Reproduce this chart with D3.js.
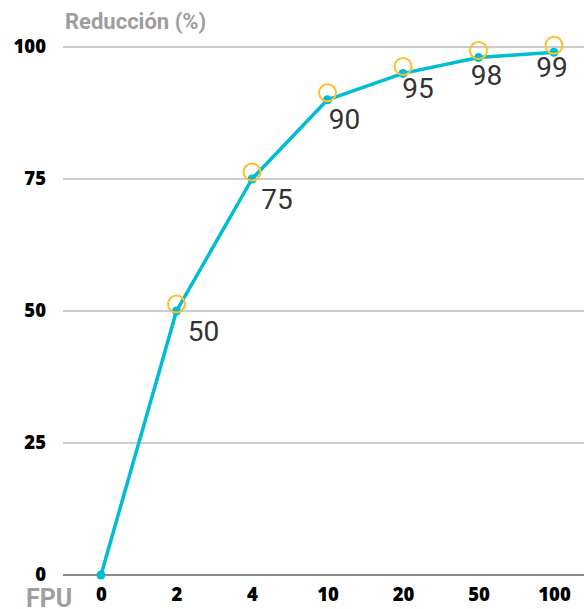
<!DOCTYPE html>
<html><head><meta charset="utf-8">
<script src="https://cdn.jsdelivr.net/npm/d3@7"></script>
<style>html,body{margin:0;padding:0;background:#fff;}svg{display:block;}</style>
</head><body>
<svg id="c" width="584" height="609"></svg>
<script>
const categories = ["0", "2", "4", "10", "20", "50", "100"];
const reduction = [0, 50, 75, 90, 95, 98, 99];
const yTicks = [0, 25, 50, 75, 100];
const yTitle = "Reducción (%)";
const xTitle = "FPU";

(function () {
const svg = d3.select("#c");
const mLeft = 63, mRight = 584, mTop = 47, mBottom = 575;
const x = d3.scalePoint().domain(categories).range([101, 554]);
const y = d3.scaleLinear().domain([0, 100]).range([mBottom, mTop]);

// gridlines
svg.append("g").selectAll("line").data(yTicks).join("line")
  .attr("x1", mLeft).attr("x2", mRight)
  .attr("y1", d => y(d)).attr("y2", d => y(d))
  .attr("stroke", d => d === 0 ? "#666" : "#bdbdbd").attr("stroke-width", 1.5);

// y axis labels
const yAxis = svg.append("g").attr("transform", `translate(46,0)`)
  .call(d3.axisLeft(y).tickValues(yTicks).tickSize(0).tickPadding(0));
yAxis.select(".domain").remove();
yAxis.selectAll("text").attr("font-family", "'Open Sans', sans-serif").attr("font-weight", 800)
  .attr("font-size", 18.5).attr("fill", "#000");

// x axis labels
const xAxis = svg.append("g").attr("transform", `translate(0,${mBottom})`)
  .call(d3.axisBottom(x).tickSize(0).tickPadding(13));
xAxis.select(".domain").remove();
xAxis.selectAll("text").attr("font-family", "'Open Sans', sans-serif").attr("font-weight", 800)
  .attr("font-size", 18.5).attr("fill", "#000");

// titles
svg.append("text").attr("x", 65).attr("y", 29).text(yTitle)
  .attr("font-family", "Roboto, sans-serif").attr("font-weight", 700).attr("font-size", 22).attr("fill", "#9e9e9e");
svg.append("text").attr("x", 26).attr("y", 607).text(xTitle)
  .attr("font-family", "Roboto, sans-serif").attr("font-weight", 700).attr("font-size", 25).attr("fill", "#9e9e9e");

const pts = categories.map((c, i) => ({c, v: reduction[i], i}));

// line
svg.append("path").datum(pts)
  .attr("d", d3.line().x(d => x(d.c)).y(d => y(d.v)).curve(d3.curveLinear))
  .attr("fill", "none").attr("stroke", "#00bcd4").attr("stroke-width", 3.5)
  .attr("stroke-linejoin", "round");

// dots
svg.append("g").selectAll("circle").data(pts).join("circle")
  .attr("cx", d => x(d.c)).attr("cy", d => y(d.v)).attr("r", 4.5).attr("fill", "#00bcd4");

// highlight rings (drawn slightly above the points)
svg.append("g").selectAll("circle").data(pts.filter(d => d.v > 0)).join("circle")
  .attr("cx", d => x(d.c)).attr("cy", d => y(d.v) - 7).attr("r", 8.5)
  .attr("fill", "none").attr("stroke", "#fbc02d").attr("stroke-width", 2);

// value labels
const labelDx = [0, 27, 25, 17, 15, 8, -2];
const labelDy = [0, 30, 30, 29, 25, 27, 25];
svg.append("g").selectAll("text").data(pts.filter(d => d.v > 0)).join("text")
  .attr("x", d => x(d.c) + labelDx[d.i]).attr("y", d => y(d.v) + labelDy[d.i])
  .attr("text-anchor", "middle").text(d => d.v)
  .attr("font-family", "Roboto, sans-serif").attr("font-size", 28).attr("fill", "#333");
})();
</script>
</body></html>
